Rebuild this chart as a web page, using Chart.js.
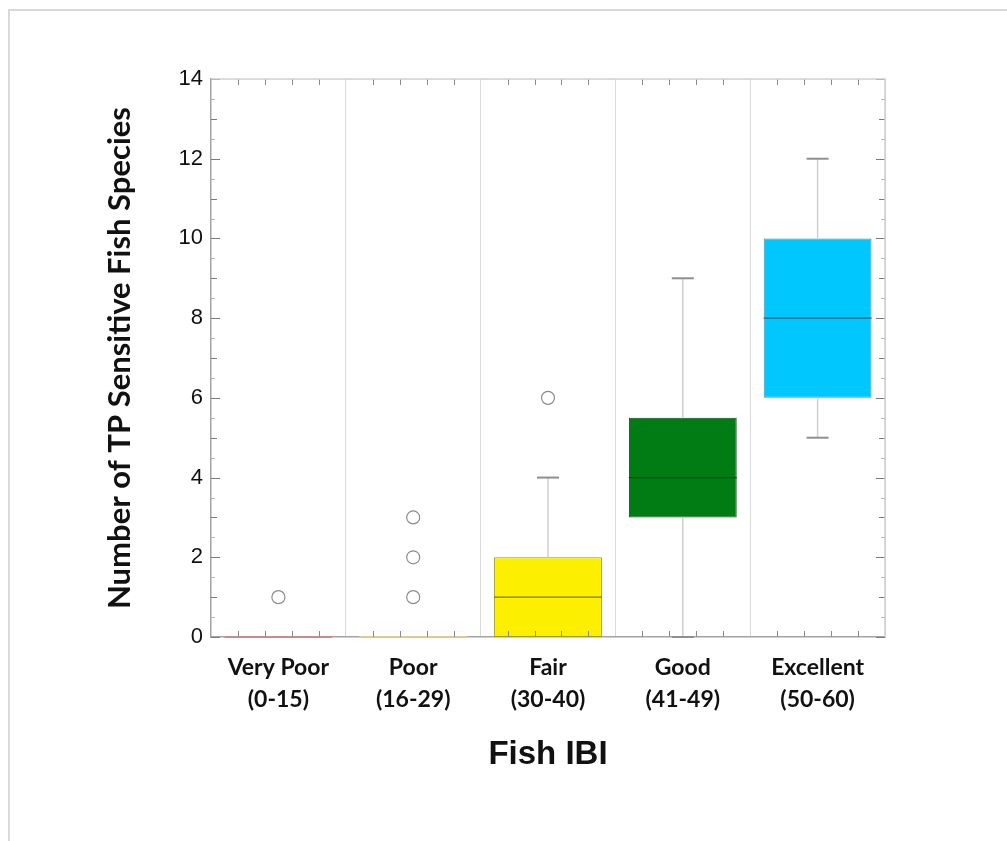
<!DOCTYPE html>
<html>
<head>
<meta charset="utf-8">
<script src="https://cdn.jsdelivr.net/npm/chart.js@4.4.1/dist/chart.umd.min.js"></script>
<style>
  html, body { margin: 0; padding: 0; background: #ffffff; overflow: hidden; }
  #wrap { position: relative; width: 1007px; height: 841px; }
  #frame { position: absolute; left: 8px; top: 9px; width: 1100px; height: 1000px; border: 2px solid #d9d9d9; box-sizing: border-box; pointer-events: none; }
  canvas { position: absolute; left: 0; top: 0; }
</style>
</head>
<body>
<div id="wrap">
  <div id="frame"></div>
  <canvas id="c" width="1007" height="841"></canvas>
</div>
<script>
// ---- data ----
const categories = [["Very Poor", "(0-15)"], ["Poor", "(16-29)"], ["Fair", "(30-40)"], ["Good", "(41-49)"], ["Excellent", "(50-60)"]];
const q1Values = [0, 0, 0, 3, 6];
const q3Values = [0, 0, 2, 5.5, 10];
const medianValues = [0, 0, 1, 4, 8];
const whiskerLow = [0, 0, 0, 0, 5];
const whiskerHigh = [0, 0, 4, 9, 12];
const outlierCategory = [0, 1, 1, 1, 2];
const outlierValues = [1, 1, 2, 3, 6];
const yTicks = [0, 2, 4, 6, 8, 10, 12, 14];

// ---- styles ----
const boxFill = ["rgba(0,0,0,0)", "rgba(0,0,0,0)", "#fcf000", "#017c14", "#00c8ff"];
const boxBorder = ["#c98c8c", "#e3c48e", "#a39c1a", "#0d4f14", "#4a8da3"];
const medianColor = ["#cc8a8a", "#e6c690", "#7d7610", "#0a4010", "#2b6478"];

const catKeys = categories.map(c => c.join(" "));

const boxData = categories.map((c, i) => [q1Values[i], q3Values[i]]);
const outlierData = outlierValues.map((v, i) => ({ x: catKeys[outlierCategory[i]], y: v }));

const boxPlugin = {
  id: 'boxExtras',
  afterDatasetsDraw(chart) {
    const ctx = chart.ctx;
    const xs = chart.scales.x, ys = chart.scales.y;
    const area = chart.chartArea;
    const bars = chart.getDatasetMeta(0).data;
    ctx.save();
    // whiskers
    for (let i = 0; i < categories.length; i++) {
      const cx = xs.getPixelForValue(i);
      const capHalf = 11;
      if (whiskerHigh[i] > q3Values[i]) {
        const y0 = ys.getPixelForValue(q3Values[i]);
        const y1 = ys.getPixelForValue(whiskerHigh[i]);
        ctx.strokeStyle = '#cfcfcf'; ctx.lineWidth = 1.5;
        ctx.beginPath(); ctx.moveTo(cx, y0); ctx.lineTo(cx, y1); ctx.stroke();
        ctx.strokeStyle = '#8f8f8f'; ctx.lineWidth = 2;
        ctx.beginPath(); ctx.moveTo(cx - capHalf, y1); ctx.lineTo(cx + capHalf, y1); ctx.stroke();
      }
      if (whiskerLow[i] < q1Values[i]) {
        const y0 = ys.getPixelForValue(q1Values[i]);
        const y1 = ys.getPixelForValue(whiskerLow[i]);
        ctx.strokeStyle = '#cfcfcf'; ctx.lineWidth = 1.5;
        ctx.beginPath(); ctx.moveTo(cx, y0); ctx.lineTo(cx, y1); ctx.stroke();
        ctx.strokeStyle = '#8f8f8f'; ctx.lineWidth = 2;
        ctx.beginPath(); ctx.moveTo(cx - capHalf, y1); ctx.lineTo(cx + capHalf, y1); ctx.stroke();
      }
      // median
      const bar = bars[i];
      const half = bar.width / 2;
      const my = ys.getPixelForValue(medianValues[i]);
      ctx.strokeStyle = medianColor[i]; ctx.lineWidth = (q1Values[i] === q3Values[i]) ? 2 : 1.2;
      ctx.beginPath(); ctx.moveTo(bar.x - half, my); ctx.lineTo(bar.x + half, my); ctx.stroke();
    }
    // y ticks (inward, both sides)
    for (let v = 0; v <= 14; v += 0.5) {
      const y = Math.round(ys.getPixelForValue(v)) + 0.5;
      let len, col;
      if (v % 2 === 0) { len = 9; col = '#7a7a7a'; }
      else if (v % 1 === 0) { len = 6; col = '#7a7a7a'; }
      else { len = 4; col = '#b5b5b5'; }
      ctx.strokeStyle = col; ctx.lineWidth = 1;
      ctx.beginPath(); ctx.moveTo(area.left, y); ctx.lineTo(area.left + len, y); ctx.stroke();
      ctx.beginPath(); ctx.moveTo(area.right, y); ctx.lineTo(area.right - len, y); ctx.stroke();
    }
    // x minor ticks (inward, top and bottom)
    for (let i = 0; i < categories.length; i++) {
      for (let k = 1; k <= 4; k++) {
        const x = Math.round(xs.getPixelForValue(i - 0.5 + k * 0.2)) + 0.5;
        ctx.strokeStyle = '#8a8a8a'; ctx.lineWidth = 1;
        ctx.beginPath(); ctx.moveTo(x, area.bottom); ctx.lineTo(x, area.bottom - 6); ctx.stroke();
        ctx.beginPath(); ctx.moveTo(x, area.top); ctx.lineTo(x, area.top + 6); ctx.stroke();
      }
    }
    // top and right frame
    ctx.strokeStyle = '#cfcfcf'; ctx.lineWidth = 1.5;
    ctx.beginPath();
    ctx.moveTo(area.left, area.top); ctx.lineTo(area.right, area.top); ctx.lineTo(area.right, area.bottom);
    ctx.stroke();
    ctx.restore();
  }
};

new Chart(document.getElementById('c'), {
  data: {
    labels: catKeys,
    datasets: [
      {
        type: 'bar',
        data: boxData,
        backgroundColor: boxFill,
        borderColor: boxBorder,
        borderWidth: 1,
        borderSkipped: false,
        barPercentage: 0.8,
        categoryPercentage: 1.0,
        order: 2
      },
      {
        type: 'line',
        data: outlierData,
        showLine: false,
        pointStyle: 'circle',
        pointRadius: 6.5,
        pointBorderWidth: 1.2,
        pointBorderColor: '#8c8c8c',
        pointBackgroundColor: '#ffffff',
        order: 1
      }
    ]
  },
  options: {
    responsive: false,
    animation: false,
    devicePixelRatio: 1,
    layout: { padding: { left: 90, top: 79, right: 122, bottom: 61 } },
    plugins: { legend: { display: false }, tooltip: { enabled: false } },
    scales: {
      x: {
        type: 'category',
        offset: true,
        grid: { display: true, offset: true, color: '#dadada', lineWidth: 1, drawTicks: false },
        border: { display: true, color: '#a3a3a3', width: 1.5 },
        ticks: {
          callback: function (val, idx) { return categories[idx]; },
          color: '#111111',
          padding: 15,
          maxRotation: 0,
          autoSkip: false,
          font: { family: 'Lato', size: 23, weight: 'bold', lineHeight: 1.39 }
        },
        title: {
          display: true,
          text: 'Fish IBI',
          color: '#111111',
          padding: { top: 0, bottom: 5 },
          font: { family: 'Liberation Sans', size: 33, weight: 'bold', lineHeight: 1.2 }
        },
        afterFit: function (scale) { scale.height = 143; }
      },
      y: {
        type: 'linear',
        min: 0,
        max: 14,
        afterBuildTicks: function (scale) { scale.ticks = yTicks.map(v => ({ value: v })); },
        grid: { display: false, drawTicks: false },
        border: { display: true, color: '#a3a3a3', width: 1.5 },
        ticks: {
          color: '#111111',
          padding: 8,
          font: { family: 'Liberation Sans', size: 22 }
        },
        title: {
          display: true,
          text: 'Number of TP Sensitive Fish Species',
          color: '#111111',
          padding: { top: 11, bottom: 0 },
          font: { family: 'Lato', size: 31, weight: 'bold', lineHeight: 1.2 }
        },
        afterFit: function (scale) { scale.width = 121; }
      }
    }
  },
  plugins: [boxPlugin]
});
</script>
</body>
</html>
